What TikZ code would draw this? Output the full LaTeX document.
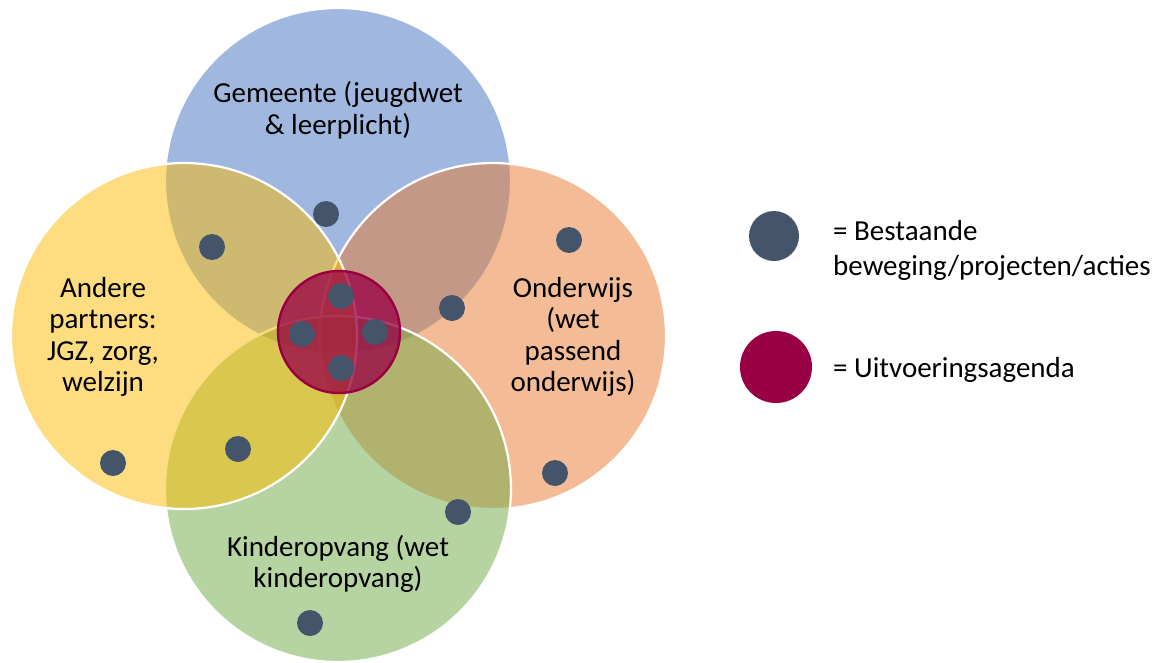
\documentclass[tikz,border=0pt]{standalone}
\usepackage{fontspec}
\setmainfont{Carlito}
\definecolor{gemblue}{RGB}{65,113,193}
\definecolor{ondorange}{RGB}{233,121,45}
\definecolor{kingreen}{RGB}{109,169,69}
\definecolor{andyellow}{RGB}{253,187,1}
\definecolor{agendared}{RGB}{153,0,68}
\definecolor{dotblue}{RGB}{68,84,106}
\tikzset{field circle/.style = {draw=white, line width=2.2pt, fill opacity=0.5}}
\tikzset{circle text/.style = {font=\fontsize{29}{31.5}\selectfont, align=center, inner sep=0pt}}
\tikzset{legend text/.style = {font=\fontsize{29}{35}\selectfont, align=left, inner sep=0pt}}
\newcommand{\project}[1]{\fill[dotblue] (#1) circle (13pt);}

\begin{document}
\begin{tikzpicture}[x=1pt, y=-1pt]
		\useasboundingbox (0,0) rectangle (1163,662);

		% Centres
		\coordinate (gem) at (338,181);
		\coordinate (and) at (184,336);
		\coordinate (ond) at (493,336);
		\coordinate (kin) at (338,489);
		\coordinate (mid) at (339,332);

		% Fields
		\draw[field circle, fill=gemblue] (gem) circle (173pt);
		\draw[field circle, fill=ondorange] (ond) circle (173pt);
		\draw[field circle, fill=kingreen] (kin) circle (173pt);
		\draw[field circle, fill=andyellow] (and) circle (173pt);

		% Agenda
		\draw[agendared, line width=2.4pt, fill=agendared, fill opacity=0.76] (mid) circle (61pt);

		% Projects
		\project{326,214}
		\project{212,247}
		\project{569,240}
		\project{452,308}
		\project{341,296}
		\project{302,334}
		\project{375,332}
		\project{341,368}
		\project{113,463}
		\project{238,449}
		\project{555,473}
		\project{458,512}
		\project{310,623}

		% Labels
		\node[circle text] (gemeente) at (338,110) {Gemeente (jeugdwet\\\& leerplicht)};
		\node[circle text] (andere) at (103,337) {Andere\\partners:\\JGZ, zorg,\\welzijn};
		\node[circle text] (onderwijs) at (573,337) {Onderwijs\\(wet\\passend\\onderwijs)};
		\node[circle text] (kinderopvang) at (338,564) {Kinderopvang (wet\\kinderopvang)};

		% Legend
		\fill[dotblue] (774,236) circle (25pt);
		\fill[agendared] (776,367) circle (36pt);
		\node[legend text, anchor=west] (bestaande) at (833,250) {= Bestaande\\beweging/projecten/acties};
		\node[legend text, anchor=base west] (uitvoering) at (833,377) {= Uitvoeringsagenda};
	\end{tikzpicture}
\end{document}
